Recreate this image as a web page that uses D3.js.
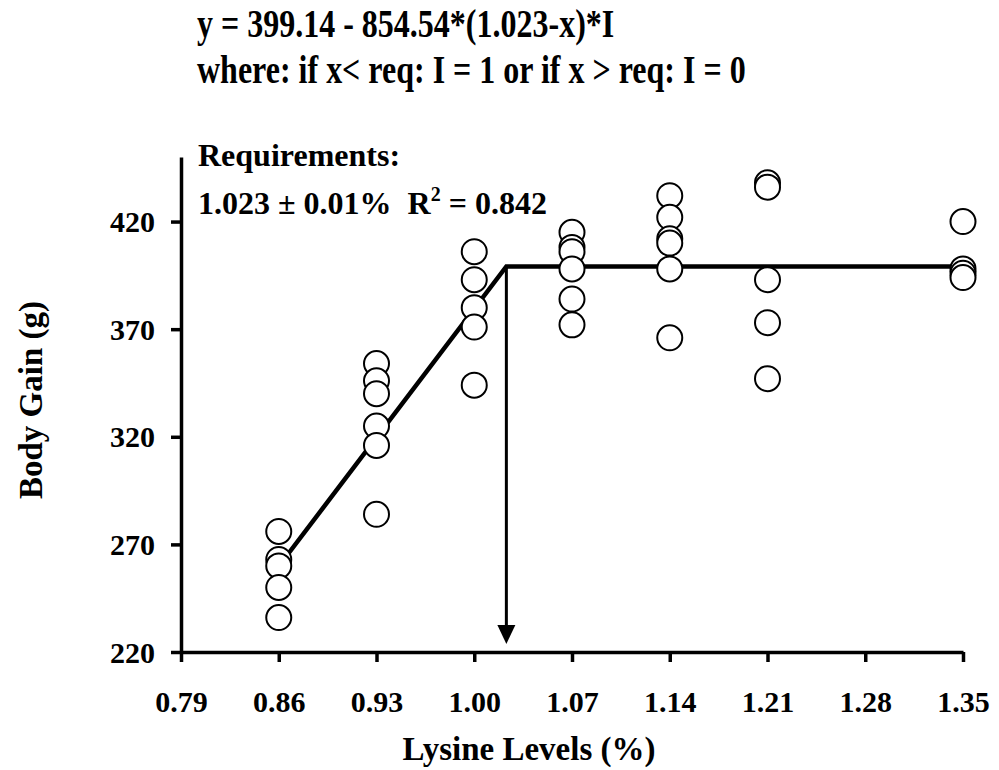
<!DOCTYPE html>
<html>

<head>
  <title>Body gain vs lysine</title>
  <style>
    body { margin: 0; background: #fff; }
    text { font-family: "Liberation Serif", "Times New Roman", serif; font-weight: bold; fill: #000; }
  </style>
</head>

<body>
  <svg id="svg"></svg>

  <script src="https://d3js.org/d3.v7.min.js"></script>
  <script>
    // observed body gain per lysine level
    let levels = [0.86, 0.93, 1.00, 1.07, 1.14, 1.21, 1.35];
    let gains = [
      [276, 263, 260, 250, 236],
      [354, 346, 340, 325, 316, 284],
      [406, 393, 380, 371, 344],
      [415, 408, 406, 398, 384, 372],
      [432, 422, 412, 410, 398, 366],
      [438, 436, 393, 373, 347],
      [420, 398, 396, 394]
    ];
    let xTicks = [0.79, 0.86, 0.93, 1.00, 1.07, 1.14, 1.21, 1.28, 1.35];
    let yTicks = [220, 270, 320, 370, 420];

    // broken-line fit
    let plateau = 399.14, slope = 854.54, req = 1.023;
    let fitX = [0.86, req, 1.35];

    let width = 999, height = 770;
    let margin = { top: 157, right: 36, bottom: 118, left: 181 };

    let svg = d3.select("#svg").attr("width", width).attr("height", height);

    let x = d3.scaleLinear().domain([0.79, 1.35]).range([margin.left, width - margin.right]);
    let y = d3.scaleLinear().domain([220, 450]).range([height - margin.bottom, margin.top]);

    let points = [];
    levels.forEach((lv, i) => gains[i].forEach(g => points.push({ x: lv, y: g })));

    let fit = fitX.map(v => ({ x: v, y: v < req ? plateau - slope * (req - v) : plateau }));

    // axes
    let xAxis = svg.append("g")
      .attr("transform", `translate(0, ${y(220)})`)
      .call(d3.axisBottom(x).tickValues(xTicks).tickFormat(d3.format(".2f")).tickSizeInner(10).tickSizeOuter(0).tickPadding(14));

    let yAxis = svg.append("g")
      .attr("transform", `translate(${x(0.79)}, 0)`)
      .call(d3.axisLeft(y).tickValues(yTicks).tickSizeInner(10).tickSizeOuter(0).tickPadding(16));

    [xAxis, yAxis].forEach(a => {
      a.select(".domain").attr("stroke", "#000").attr("stroke-width", 3.5);
      a.selectAll(".tick line").attr("stroke", "#000").attr("stroke-width", 3.5);
      a.selectAll(".tick text").style("font-family", "'Liberation Serif', serif")
        .style("font-weight", "bold").style("font-size", "30px").attr("fill", "#000");
    });
    xAxis.selectAll(".tick text").attr("dy", "36px");
    yAxis.selectAll(".tick text").attr("dy", "0.34em");

    // fitted line
    svg.append("path")
      .datum(fit)
      .attr("fill", "none")
      .attr("stroke", "#000")
      .attr("stroke-width", 4.5)
      .attr("d", d3.line().x(d => x(d.x)).y(d => y(d.y)));

    // arrow down to the requirement
    let ax = x(req);
    svg.append("line")
      .attr("x1", ax).attr("x2", ax)
      .attr("y1", y(plateau)).attr("y2", y(220) - 24)
      .attr("stroke", "#000").attr("stroke-width", 3);
    svg.append("path")
      .attr("d", `M${ax - 9},${y(220) - 27} L${ax + 9},${y(220) - 27} L${ax},${y(220) - 8} Z`)
      .attr("fill", "#000");

    // observations
    svg.selectAll("circle")
      .data(points)
      .join("circle")
      .attr("cx", d => x(d.x))
      .attr("cy", d => y(d.y))
      .attr("r", 12.5)
      .attr("fill", "#fff")
      .attr("stroke", "#000")
      .attr("stroke-width", 2);

    // titles and annotations
    svg.append("text")
      .attr("x", 529).attr("y", 760)
      .attr("text-anchor", "middle")
      .style("font-size", "33px")
      .text("Lysine Levels (%)");

    svg.append("text")
      .attr("transform", `translate(42, 400) rotate(-90)`)
      .attr("text-anchor", "middle")
      .style("font-size", "33px")
      .text("Body Gain (g)");

    // the equation text is drawn taller than it is wide in the original
    svg.append("text")
      .attr("transform", "translate(197, 37) scale(1, 1.28)")
      .style("font-size", "32px")
      .text("y = 399.14 - 854.54*(1.023-x)*I");

    svg.append("text")
      .attr("transform", "translate(197, 83) scale(1, 1.28)")
      .style("font-size", "32px")
      .text("where: if x< req: I = 1 or if x > req: I = 0");

    svg.append("text")
      .attr("x", 198).attr("y", 166)
      .style("font-size", "32px")
      .text("Requirements:");

    let req2 = svg.append("text")
      .attr("x", 198).attr("y", 214)
      .style("font-size", "32px");
    req2.append("tspan").text("1.023 \u00b1 0.01%\u00a0\u00a0R");
    req2.append("tspan").attr("dy", -13).style("font-size", "20px").text("2");
    req2.append("tspan").attr("dy", 13).text(" = 0.842");
  </script>
</body>

</html>
